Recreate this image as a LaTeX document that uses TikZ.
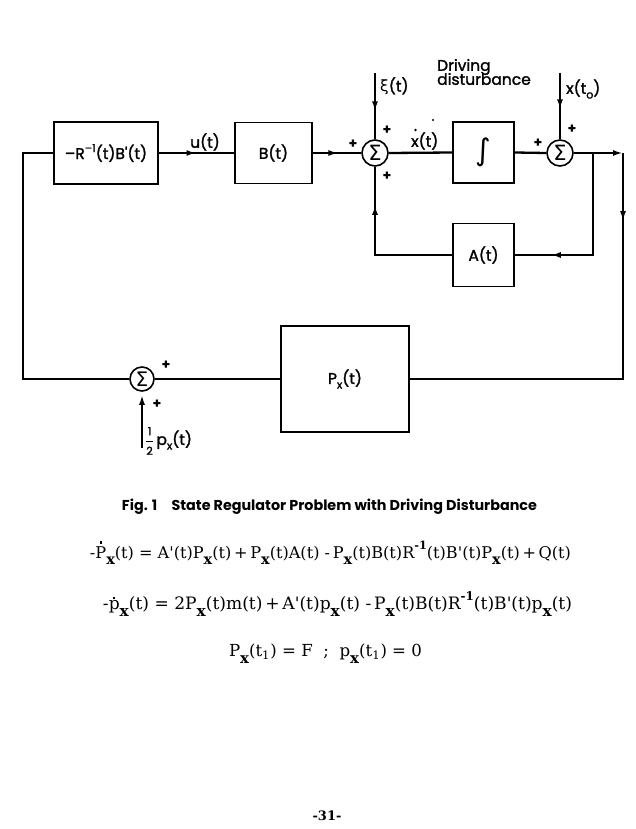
\documentclass[tikz,border=0pt]{standalone}
\usepackage{fontspec}
\usepackage{amsmath}
\usepackage{graphicx}
\setmainfont{Poppins}
\newfontfamily\lab{Poppins}[FakeBold=1.6]
\newfontfamily\dejasans{DejaVu Sans}
\newfontfamily\eqfont{DejaVu Serif}
\usetikzlibrary{arrows.meta,decorations.markings}
\newcommand\sx{\raisebox{-0.4em}{\bfseries\small x}}
\newcommand\inv{\raisebox{0.55em}{\bfseries\scriptsize -1}}
\newcommand\qt{\textquotesingle}
\newcommand\dotP{{\ooalign{P\cr\hidewidth\rule[0.92em]{0.13em}{0.13em}\hidewidth\cr}}}
\newcommand\dotp{{\ooalign{p\cr\hidewidth\rule[0.6em]{0.13em}{0.13em}\hidewidth\cr}}}
\newcommand\lsub[1]{\raisebox{-0.3em}{\fontsize{11}{11}\selectfont #1}}
\tikzset{
  blk/.style={draw, line width=1.6pt, inner sep=0pt},
  sumc/.style={draw, circle, line width=1.6pt, minimum size=26pt, inner sep=0pt, font=\dejasans\fontsize{21}{21}\selectfont},
  lbl/.style={inner sep=0pt, font=\lab\fontsize{15.5}{17}\selectfont},
  pl/.style={inner sep=0pt, font=\bfseries\fontsize{14}{14}\selectfont},
  wire/.style={line width=2.3pt, line join=miter},
  marr/.style={postaction={decorate}, decoration={markings, mark=at position #1 with {\arrow{Latex[length=10pt,width=6pt]}}}},
  eqn/.style={inner sep=0pt, font=\eqfont}
}
\begin{document}
\begin{tikzpicture}[x=1pt,y=-1pt]
\useasboundingbox (0,0) rectangle (635,829);
% blocks
\node[blk, minimum width=104pt, minimum height=62pt] (bR) at (106,153) {};
\node[lbl] at (bR.center) {\textendash R\raisebox{0.45em}{\fontsize{11}{11}\selectfont\textendash1}(t)B\textquotesingle(t)};
\node[blk, minimum width=77pt, minimum height=61pt] (bB) at (273.5,153) {};
\node[lbl] at (bB.center) {B(t)};
\node[sumc] (s1) at (375,153) {Σ};
\node[blk, minimum width=61pt, minimum height=61pt] (bI) at (483.5,152.5) {};
\node[inner sep=0pt, font=\dejasans\fontsize{30}{30}\selectfont] at (bI.center) {∫};
\node[sumc] (s2) at (560,153) {Σ};
\node[blk, minimum width=61pt, minimum height=63pt] (bA) at (483.5,255) {};
\node[lbl] at (bA.center) {A(t)};
\node[blk, minimum width=128pt, minimum height=106pt] (bP) at (345,379) {};
\node[lbl] at (bP.center) {P\lsub{x}(t)};
\node[sumc, minimum size=24pt, font=\dejasans\fontsize{20}{20}\selectfont] (s3) at (142,379) {Σ};
% coordinates
\coordinate (cL1) at (23,153);
\coordinate (cL2) at (23,379);
\coordinate (cR1) at (623,153);
\coordinate (cR2) at (623,379);
\coordinate (br) at (593,153);
\coordinate (brb) at (593,255);
\coordinate (ab) at (375,255);
\coordinate (xi) at (375,73);
\coordinate (x0) at (560,73);
\coordinate (hp) at (142,448);
% wires
\draw[wire, marr=0.5] (bR.east) -- (bB.west);
\draw[wire, marr=0.53] (bB.east) -- (s1.west);
\draw[wire] (s1.east) -- (bI.west);
\draw[wire] (bI.east) -- (s2.west);
\draw[wire, -{Latex[length=10pt,width=6pt]}] (s2.east) -- (cR1);
\draw[wire, marr=0.155] (cR1) -- (cR2) -- (bP.east);
\draw[wire] (bP.west) -- (s3.east);
\draw[wire] (s3.west) -- (cL2) -- (cL1) -- (bR.west);
\draw[wire, marr=0.8] (br) -- (brb) -- (bA.east);
\draw[wire, marr=0.77] (bA.west) -- (ab) -- (s1.south);
\draw[wire, marr=0.58] (xi) -- (s1.north);
\draw[wire, marr=0.55] (x0) -- (s2.north);
\draw[wire, -{Latex[length=10pt,width=6pt]}, shorten >=3pt] (hp) -- (s3.south);
% labels
\node[lbl] (lu) at (205,142) {u(t)};
\node[lbl, anchor=west] (lxi) at (380,86) {{\dejasans ξ}(t)};
\node[lbl, align=left, anchor=west] (ldd) at (437,72) {Driving\\[-3pt]disturbance};
\node[lbl, anchor=west] (lx0) at (566,89) {x(t\lsub{o})};
\node[lbl, anchor=west] (lxd) at (411,141) {x(t)};
\fill (415.5,130) circle (1.3pt);
\fill (433,120) circle (1.2pt);
\node[pl] at (353,144) {+};
\node[pl] at (387,130) {+};
\node[pl] at (387,176) {+};
\node[pl] at (538,143) {+};
\node[pl] at (572,129) {+};
\node[pl] at (166,365) {+};
\node[pl] at (157,404) {+};
\node[lbl, anchor=west] (lhp) at (145,441) {$\dfrac{\text{\lab\fontsize{11}{11}\selectfont 1}}{\text{\lab\fontsize{11}{11}\selectfont 2}}$\,p\lsub{x}(t)};
% caption and equations
\node[inner sep=0pt] (cap) at (329.5,507) {\resizebox{415pt}{!}{\bfseries Fig. 1\quad State Regulator Problem with Driving Disturbance}};
\node[eqn] (e1) at (330.5,553) {\resizebox{481pt}{!}{-\dotP\sx(t)\ =\ A\qt(t)P\sx(t)\,+\,P\sx(t)A(t)\ -\,P\sx(t)B(t)R\inv(t)B\qt(t)P\sx(t)\,+\,Q(t)}};
\node[eqn] (e2) at (337.5,604) {\resizebox{469pt}{!}{-\dotp\sx(t)\ =\ 2P\sx(t)m(t)\,+\,A\qt(t)p\sx(t)\ -\,P\sx(t)B(t)R\inv(t)B\qt(t)p\sx(t)}};
\node[eqn] (e3) at (325.5,654) {\resizebox{193pt}{!}{P\sx(t\textsubscript{1})\ =\ F\ \ ;\ \ p\sx(t\textsubscript{1})\ =\ 0}};
\node[eqn, font=\eqfont\bfseries\fontsize{13}{13}\selectfont] (pg) at (327,816) {-31-};
\end{tikzpicture}
\end{document}
